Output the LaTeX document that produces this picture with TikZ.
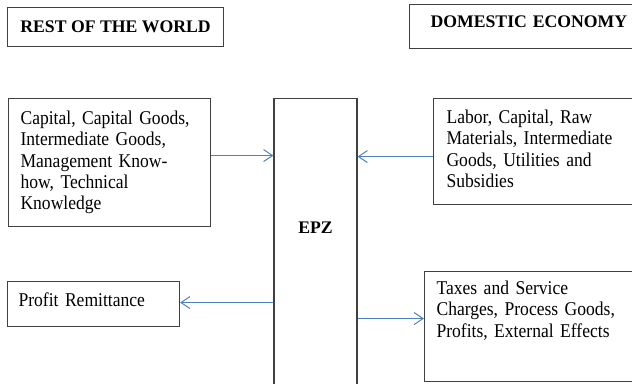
\documentclass[tikz,border=0pt]{standalone}
\usepackage{fontspec}
\setmainfont{Liberation Serif}[FakeStretch=0.9]
\newfontfamily\headfont{Liberation Serif}
\usepackage{tikz}
\usetikzlibrary{arrows.meta, positioning}
\definecolor{flowblue}{HTML}{4F81BD}
\definecolor{edgegray}{HTML}{404040}
\protected\def\bodytext{\fontsize{19.5}{21.3}\selectfont\spaceskip=4.4pt plus 1pt minus 1pt\relax}

\begin{document}
\begin{tikzpicture}[
  x=1pt, y=-1pt,
  every node/.style={font=\bodytext},
  sector/.style={draw=edgegray, line width=1.1pt, anchor=north west, align=left, inner ysep=0pt},
  heading/.style={sector, font=\fontsize{17.7}{21}\selectfont\headfont\bfseries},
  flow/.style={-{Straight Barb[length=9pt, width=12pt]}, flowblue, line width=1pt}
]
  % frame of the page
  \useasboundingbox (0,0) rectangle (632,383);
  \clip (0,0) rectangle (632,383);

  % Headings
  \node[heading, align=center, minimum width=216pt, inner xsep=0pt, text height=25pt, text depth=14pt] (world) at (7,7) {REST OF THE WORLD};
  \node[heading, inner xsep=21pt, text width=249pt, text height=23pt, text depth=21pt] (domestic) at (409,4) {DOMESTIC ECONOMY};

  % Zone in the middle
  \node[heading, anchor=north, align=center, minimum width=83pt, inner xsep=0pt, text height=135pt, text depth=200pt] (epz) at (315.5,98) {EPZ};

  % Inflows
  \node[sector, inner xsep=12pt, text width=178pt, text height=26pt, text depth=102pt] (capital) at (8,98)
    {Capital, Capital Goods,\\Intermediate Goods,\\Management Know-\\how, Technical\\Knowledge};
  \node[sector, inner xsep=13pt, text width=241pt, text height=25pt, text depth=81pt] (labor) at (433,98)
    {Labor, Capital, Raw\\Materials, Intermediate\\Goods, Utilities and\\Subsidies};

  % Outflows
  \node[sector, inner xsep=11pt, text width=150pt, text height=25pt, text depth=20pt] (profit) at (7,281) {Profit Remittance};
  \node[sector, inner xsep=12pt, text width=252pt, text height=23pt, text depth=87pt] (taxes) at (424,271)
    {Taxes and Service\\Charges, Process Goods,\\Profits, External Effects};

  % Arrows
  \draw[flow] ([yshift=7pt]capital.east) -- ([yshift=7pt]capital.east -| epz.west);
  \draw[flow] ([yshift=-5pt]labor.west) -- ([yshift=-5pt]labor.west -| epz.east);
  \draw[flow] ([yshift=1.5pt]profit.east -| epz.west) -- ([yshift=1.5pt]profit.east);
  \draw[flow] ([yshift=8pt]taxes.west -| epz.east) -- ([yshift=8pt]taxes.west);
\end{tikzpicture}
\end{document}
